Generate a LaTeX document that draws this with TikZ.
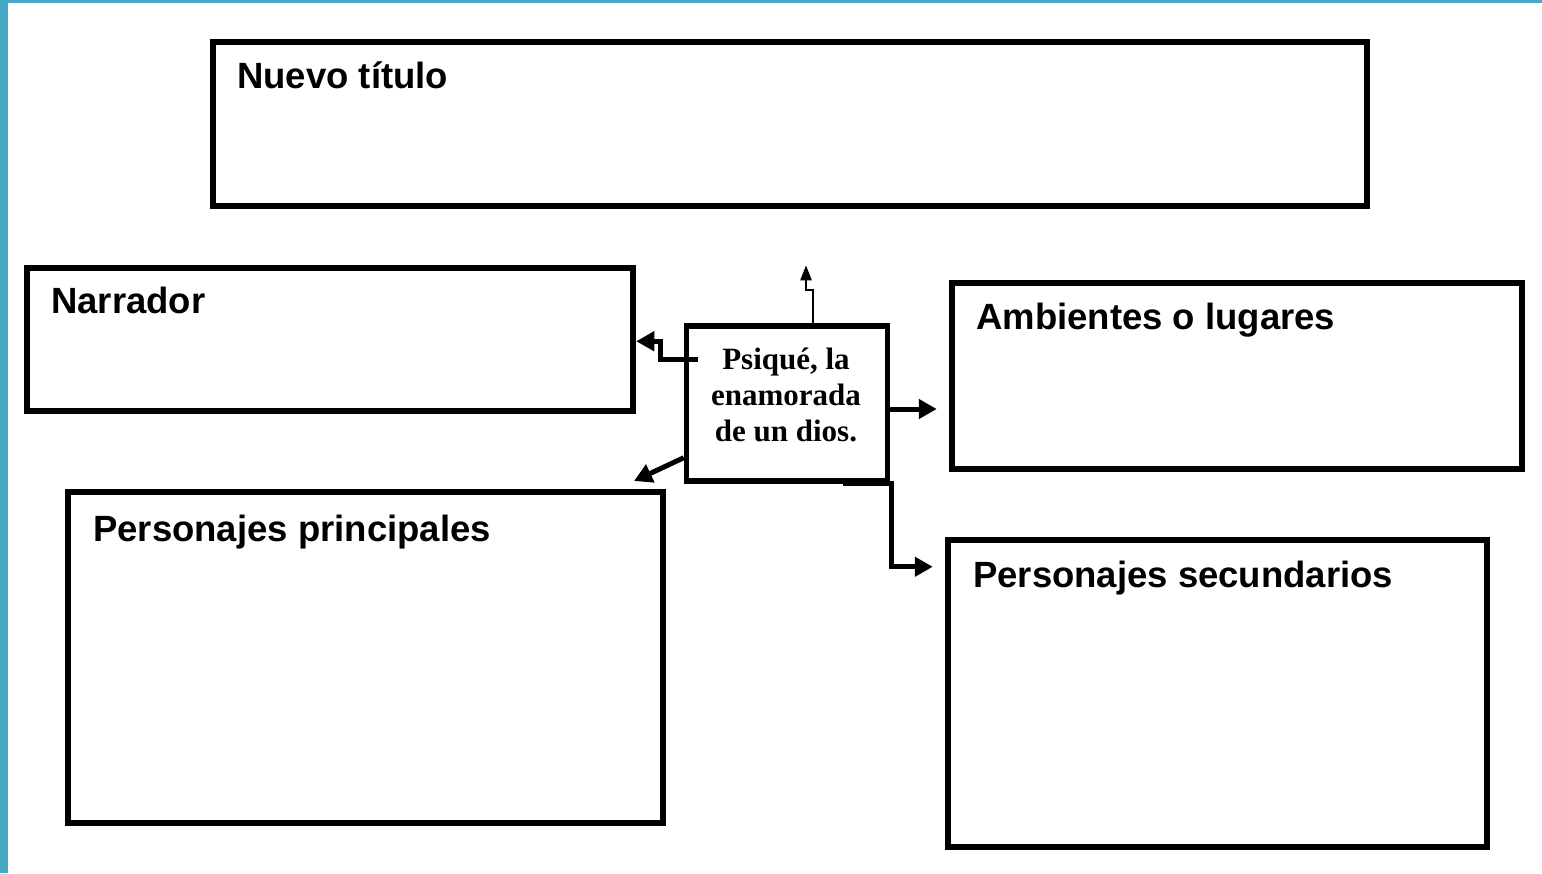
\documentclass[tikz,border=0pt]{standalone}
\usepackage{fontspec}
\usetikzlibrary{arrows.meta,calc}
\newfontfamily\sansb{Liberation Sans}
\newfontfamily\serifb{Liberation Serif}
\definecolor{teal1}{HTML}{47A9C5}
\tikzset{
  box/.style={draw=black, line width=6.5pt, fill=white, inner sep=0pt},
  lbl/.style={anchor=base west, inner sep=0pt, font=\sansb\bfseries\fontsize{36.5}{40}\selectfont},
  arr/.style={line width=5pt, -{Triangle[length=18pt,width=19pt]}},
  thinarr/.style={line width=2.3pt, -{Triangle[length=15pt,width=11pt]}}
}
\begin{document}
\begin{tikzpicture}[x=1pt,y=-1pt]
\useasboundingbox (0,0) rectangle (1542,873);
\fill[white] (0,0) rectangle (1542,873);
\fill[teal1] (0,0) rectangle (8,873);
\fill[teal1] (0,0) rectangle (1542,3);

\node[box, minimum width=1154pt, minimum height=164pt] (title) at (790,124) {};
\node[box, minimum width=606pt, minimum height=143pt] (narr) at (330,339.5) {};
\node[box, line width=5.5pt, minimum width=201pt, minimum height=155pt] (c) at (787,403.5) {};
\node[box, minimum width=570pt, minimum height=186pt] (amb) at (1237,376) {};
\node[box, minimum width=595pt, minimum height=331pt] (prin) at (365.5,657.5) {};
\node[box, minimum width=539pt, minimum height=307pt] (sec) at (1217.5,693.5) {};

\node[lbl] (ttitle) at (237,88) {Nuevo título};
\node[lbl] (tnarr) at (51,313) {Narrador};
\node[lbl] (tamb) at (976,329) {Ambientes o lugares};
\node[lbl] (tprin) at (93,541) {Personajes principales};
\node[lbl] (tsec) at (973,587) {Personajes secundarios};

\node[inner sep=0pt, align=center, font=\serifb\bfseries\fontsize{31}{36}\selectfont] (ct) at (786,395) {Psiqué, la\\enamorada\\de un dios.};

% up arrow
\draw[thinarr] ([xshift=26pt]c.north) -- ++(0,-33) -- ++(-7,0) -- ++(0,-25);
% narrador
\draw[arr] ($(c.north west)+(14,36)$) -- ++(-37,0) -- ++(0,-18) coordinate (k2) -- (k2 -| narr.east);
% ambientes
\draw[arr, shorten >=12pt] ([yshift=-5.5pt]c.east) -- ([yshift=-5.5pt]c.east -| amb.west);
% principales
\coordinate (pp) at (634,481);
\draw[arr] ([yshift=26pt]c.south west) -- (pp);
% secundarios
\draw[arr, shorten >=12pt] ([xshift=56pt]c.south) -- ([xshift=1pt]c.south east) |- ($(sec.north west)+(0,30)$);
\end{tikzpicture}
\end{document}
